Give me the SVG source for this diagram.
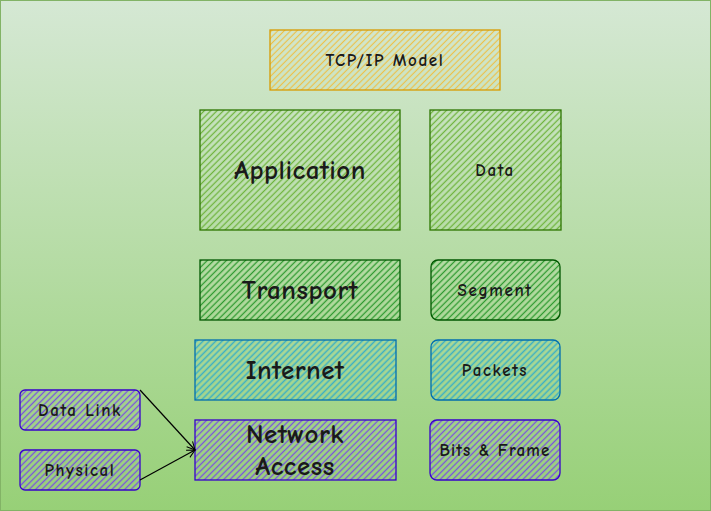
<svg xmlns="http://www.w3.org/2000/svg" width="711" height="511" viewBox="0 0 711 511">
<defs>
<linearGradient id="bg" x1="0" y1="0" x2="0" y2="1">
<stop offset="0" stop-color="#d5e8d4"/>
<stop offset="1" stop-color="#97d077"/>
</linearGradient>
<pattern id="hOrange" width="4.5" height="4.5" patternUnits="userSpaceOnUse" patternTransform="rotate(-45)"><line x1="0" y1="2.25" x2="4.5" y2="2.25" stroke="#ecc14a" stroke-width="1.2"/></pattern>
<pattern id="hGreen" width="4.5" height="4.5" patternUnits="userSpaceOnUse" patternTransform="rotate(-45)"><line x1="0" y1="2.25" x2="4.5" y2="2.25" stroke="#6fb43e" stroke-width="1.3"/></pattern>
<pattern id="hDark" width="4.5" height="4.5" patternUnits="userSpaceOnUse" patternTransform="rotate(-45)"><line x1="0" y1="2.25" x2="4.5" y2="2.25" stroke="#2e9a30" stroke-width="1.3"/></pattern>
<pattern id="hBlue" width="4.5" height="4.5" patternUnits="userSpaceOnUse" patternTransform="rotate(-45)"><line x1="0" y1="2.25" x2="4.5" y2="2.25" stroke="#3cb0c4" stroke-width="1.5"/></pattern>
<pattern id="hPurple" width="4.5" height="4.5" patternUnits="userSpaceOnUse" patternTransform="rotate(-45)"><line x1="0" y1="2.25" x2="4.5" y2="2.25" stroke="#7a50e0" stroke-width="1.3"/></pattern>
<marker id="arr" markerWidth="10" markerHeight="10" refX="9" refY="5" orient="auto" markerUnits="userSpaceOnUse"><path d="M1,1 L9,5 L1,9" fill="none" stroke="#000" stroke-width="1"/></marker>
</defs>
<style>
text{font-family:"Comic Neue","Liberation Sans",sans-serif;fill:#1a1a1a;text-anchor:middle;dominant-baseline:central;font-weight:bold}
.big{font-size:27px;letter-spacing:0.5px}
.sm{font-size:17px;letter-spacing:1.6px}
.orange{fill:url(#hOrange);stroke:#d79b00;stroke-width:1.3}
.green{fill:url(#hGreen);stroke:#2d7600;stroke-width:1.3}
.dark{fill:url(#hDark);stroke:#005700;stroke-width:1.3}
.blue{fill:url(#hBlue);stroke:#006eaf;stroke-width:1.3}
.purple{fill:url(#hPurple);stroke:#3700cc;stroke-width:1.3}
.edge{fill:none;stroke:#000;stroke-width:1.2}
</style>
<rect x="0.5" y="0.5" width="710" height="510" fill="url(#bg)" stroke="#82b366"/>
<g id="title"><rect class="orange" x="270" y="30" width="230" height="60"/><text class="sm" x="385" y="60">TCP/IP Model</text></g>
<g id="application"><rect class="green" x="200" y="110" width="200" height="120"/><text class="big" x="300" y="170">Application</text></g>
<g id="data"><rect class="green" x="430" y="110" width="131" height="120"/><text class="sm" x="495" y="170">Data</text></g>
<g id="transport"><rect class="dark" x="200" y="260" width="200" height="60"/><text class="big" x="300" y="290">Transport</text></g>
<g id="segment"><rect class="dark" x="431" y="260" width="129" height="60" rx="7"/><text class="sm" x="495" y="290">Segment</text></g>
<g id="internet"><rect class="blue" x="195" y="340" width="201" height="60"/><text class="big" x="295" y="370">Internet</text></g>
<g id="packets"><rect class="blue" x="431" y="340" width="129" height="60" rx="7"/><text class="sm" x="495" y="370">Packets</text></g>
<g id="network-access"><rect class="purple" x="195" y="420" width="201" height="60"/><text class="big" x="295" y="434">Network</text><text class="big" x="295" y="466">Access</text></g>
<g id="bits-frame"><rect class="purple" x="430" y="420" width="130" height="60" rx="7"/><text class="sm" x="495" y="450" style="letter-spacing:1.2px">Bits &amp; Frame</text></g>
<g id="data-link"><rect class="purple" x="20" y="390" width="120" height="40" rx="5"/><text class="sm" x="80" y="410">Data Link</text></g>
<g id="physical"><rect class="purple" x="20" y="450" width="120" height="40" rx="5"/><text class="sm" x="80" y="470">Physical</text></g>
<g id="connectors">
<path class="edge" d="M140,390 L195,450" marker-end="url(#arr)"/>
<path class="edge" d="M140,480 L195,450" marker-end="url(#arr)"/>
</g>
</svg>
